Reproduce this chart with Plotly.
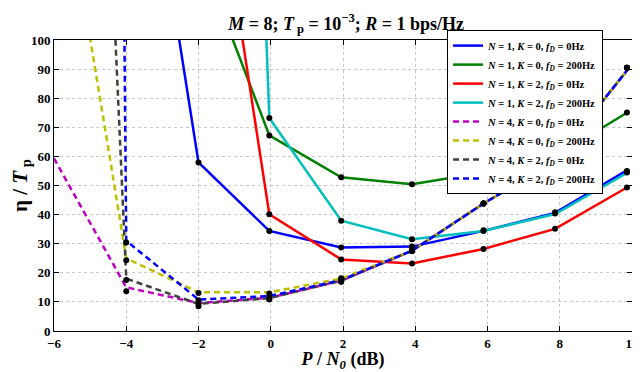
import plotly.graph_objects as go

# SNR grid where the simulated points sit (dB)
x_pts = [-4, -2, -0.04, 1.95, 3.91, 5.89, 7.87, 9.86]

# N = 1 curves (solid)
x_n1k0 = [-4, -2, -0.04, 1.95, 3.91, 5.89, 7.87, 9.86]
y_n1k0_0 = [216, 57.9, 34.4, 28.7, 29.0, 34.4, 40.6, 55.2]
x_n1k0_200 = [-2, -0.04, 1.95, 3.91, 5.89, 7.87, 9.86]
y_n1k0_200 = [131, 67.2, 52.8, 50.4, 54.5, 60.0, 75.0]
x_n1k2 = [-2, -0.04, 1.95, 3.91, 5.89, 7.87, 9.86]
y_n1k2_0 = [199, 40.1, 24.6, 23.2, 28.2, 35.1, 49.3]
y_n1k2_200 = [730, 73.2, 37.9, 31.5, 34.4, 40.2, 54.3]

# N = 4 curves (dashed)
x_n4k0_0 = [-6, -4, -2, -0.04, 1.95, 3.91, 5.89, 7.87, 9.86]
y_n4k0_0 = [59.3, 15.0, 9.6, 11.4, 17.3, 27.6, 43.8, 58.5, 89.5]
x_n4k0_200 = [-5.5, -5, -4.5, -4, -2, -0.04, 1.95, 3.91, 5.89, 7.87, 9.86]
y_n4k0_200 = [135, 100.5, 63, 25.0, 13.3, 13.3, 18.0, 27.6, 43.8, 58.5, 89.5]
x_n4k2 = [-4.5, -4, -2, -0.04, 1.95, 3.91, 5.89, 7.87, 9.86]
y_n4k2_0 = [155, 18.0, 9.3, 11.3, 17.3, 27.6, 43.8, 58.5, 89.5]
y_n4k2_200 = [720, 31.0, 10.8, 12.0, 17.5, 27.6, 43.8, 58.5, 89.5]

# simulated points (black dots), None = off the chart
d_n1k0_0 = [None, 57.9, 34.4, 28.7, 29.0, 34.6, 40.8, 55.0]
d_n1k0_200 = [None, None, 67.2, 52.8, 50.4, 54.5, 60.0, 75.1]
d_n1k2_0 = [None, None, 40.1, 24.6, 23.2, 28.2, 35.1, 49.3]
d_n1k2_200 = [None, None, 73.2, 37.9, 31.5, 34.4, 40.4, 54.5]
d_n4k0_0 = [13.7, 9.4, 11.2, 17.0, 27.5, 43.8, 58.5, 90.5]
d_n4k0_200 = [24.3, 13.1, 12.9, 18.1, 28.8, 43.8, 58.5, 90.5]
d_n4k2_0 = [17.5, 8.5, 10.8, 16.9, 27.5, 43.8, 58.5, 90.5]
d_n4k2_200 = [30.4, 10.6, 12.0, 17.5, 27.5, 43.8, 58.5, 90.5]

x_ticks = list(range(-6, 11, 2))
y_ticks = list(range(0, 101, 10))


def lab(n, k, f):
    return f"<b><i>N</i> = {n}, <i>K</i> = {k}, <i>f</i><sub><i>D</i></sub> = {f}Hz</b>"


series = [
    (x_n1k0, y_n1k0_0, d_n1k0_0, lab(1, 0, 0), "#0000ff", "solid"),
    (x_n1k0_200, y_n1k0_200, d_n1k0_200, lab(1, 0, 200), "#008000", "solid"),
    (x_n1k2, y_n1k2_0, d_n1k2_0, lab(1, 2, 0), "#ff0000", "solid"),
    (x_n1k2, y_n1k2_200, d_n1k2_200, lab(1, 2, 200), "#00bfbf", "solid"),
    (x_n4k0_0, y_n4k0_0, d_n4k0_0, lab(4, 0, 0), "#bf00bf", "6px,4px"),
    (x_n4k0_200, y_n4k0_200, d_n4k0_200, lab(4, 0, 200), "#bfbf00", "6px,4px"),
    (x_n4k2, y_n4k2_0, d_n4k2_0, lab(4, 2, 0), "#404040", "6px,4px"),
    (x_n4k2, y_n4k2_200, d_n4k2_200, lab(4, 2, 200), "#0000ff", "6px,4px"),
]

fig = go.Figure()
for xs, ys, ds, name, col, dash in series:
    fig.add_trace(go.Scatter(x=xs, y=ys, mode="lines", name=name,
                             line=dict(color=col, width=2.5, dash=dash)))
for xs, ys, ds, name, col, dash in series:
    fig.add_trace(go.Scatter(x=x_pts, y=ds, mode="markers", showlegend=False,
                             marker=dict(color="black", size=6)))

# page body has an 8px margin, so the figure is 8px smaller each way
font = "Liberation Serif, Times New Roman, serif"
fig.update_layout(
    width=632, height=364,
    margin=dict(l=46, r=8, t=32, b=41, autoexpand=False),
    paper_bgcolor="white", plot_bgcolor="white",
    font=dict(family=font, color="black", size=13),
    title=dict(text="<b><i>M</i> = 8; <i>T</i><sub> p</sub> = 10<sup>−3</sup>; <i>R</i> = 1 bps/Hz</b>",
               x=0.535, xanchor="center", y=0.975, yanchor="top",
               font=dict(size=18)),
    legend=dict(x=0.68, y=1.034, xanchor="left", yanchor="top",
                bgcolor="white", bordercolor="black", borderwidth=1,
                font=dict(size=10.5), tracegroupgap=0, itemwidth=30),
)
axis_style = dict(showline=True, linecolor="black", linewidth=1, mirror="allticks",
                  ticks="inside", ticklen=5, tickcolor="black",
                  showgrid=True, gridcolor="#c8c8c8", griddash="dot", gridwidth=1,
                  zeroline=False, tickfont=dict(size=13), ticklabeloverflow="allow")
fig.update_xaxes(range=[-6, 10], tickvals=x_ticks,
                 ticktext=[f"<b>{v}</b>".replace("-", "−") for v in x_ticks],
                 title=dict(text="<b><i>P</i> / <i>N</i><sub><i>0</i></sub> (dB)</b>",
                            font=dict(size=18), standoff=0),
                 **axis_style)
fig.update_yaxes(range=[0, 100], tickvals=y_ticks,
                 ticktext=[f"<b>{v}</b>" for v in y_ticks],
                 title=dict(text="<b>η / <i>T</i><sub> p</sub></b>",
                            font=dict(size=21), standoff=4),
                 **axis_style)

fig.write_html("out.html")
